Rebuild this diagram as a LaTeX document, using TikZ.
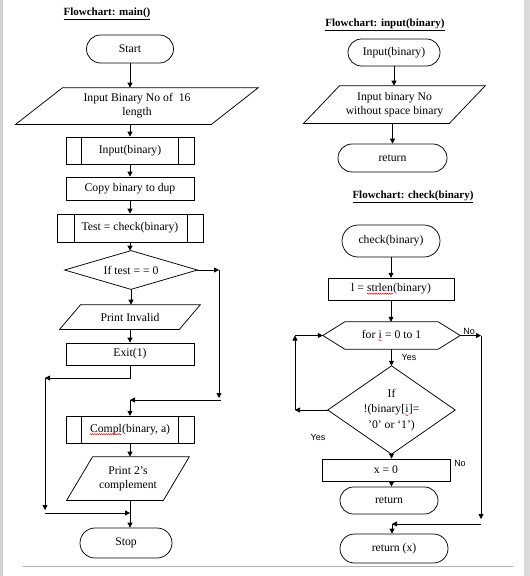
\documentclass[tikz,border=0pt]{standalone}
\usepackage{fontspec}
\setmainfont{Liberation Serif}
\newfontfamily\labfont{Liberation Sans}
\usetikzlibrary{arrows.meta,decorations.pathmorphing}
\newcommand\redwave[1]{\tikz[baseline=(wv.base),x=1pt,y=1pt]{\node[inner sep=0pt,outer sep=0pt,minimum width=0pt,minimum height=0pt,draw=none,align=left] (wv) {#1};\draw[red,line width=0.45pt,decorate,decoration={zigzag,amplitude=0.7pt,segment length=2.2pt}] ([yshift=-2.2pt]wv.base west) -- ([yshift=-2.2pt]wv.base east);}}
\tikzset{
  base/.style={inner sep=0pt, align=center, font=\fontsize{11.7}{14}\selectfont},
  term/.style={base, draw, rounded corners=#1},
  proc/.style={base, draw},
  io/.style={base},
  ttl/.style={inner sep=0pt, font=\fontsize{11}{13}\selectfont\bfseries},
  lab/.style={inner sep=0pt, font=\fontsize{9}{11}\selectfont\labfont},
  arr/.style={-{Triangle[length=5pt,width=5pt]}}
}
\begin{document}
\begin{tikzpicture}[x=1pt,y=-1pt,line width=0.75pt]
\useasboundingbox (0,0) rectangle (530,576);
\fill[gray!35] (0,0) rectangle (3,576);
\fill[gray!28] (524,0) rectangle (530,576);

% ---------------- main() ----------------
\node[ttl] (t1) at (107,14) {\underline{Flowchart: main()}};
\node[term=14pt, minimum width=87pt, minimum height=28pt] (start) at (130,49) {Start};
\node[io, minimum width=242pt, minimum height=36pt] (inp) at (137,106) {Input Binary No of\ \ 16\\length};
\draw ([xshift=47pt]inp.north west) -- (inp.north east) -- ([xshift=-47pt]inp.south east) -- (inp.south west) -- cycle;
\node[proc, minimum width=128pt, minimum height=27pt] (inb) at (130,150.5) {Input(binary)};
\draw ([xshift=16pt]inb.north west) -- ([xshift=16pt]inb.south west);
\draw ([xshift=-16pt]inb.north east) -- ([xshift=-16pt]inb.south east);
\node[proc, minimum width=128pt, minimum height=23pt] (copy) at (130,188.5) {Copy binary to dup};
\node[proc, minimum width=146pt, minimum height=28pt] (test) at (130,228) {Test = check(binary)};
\draw ([xshift=18pt]test.north west) -- ([xshift=18pt]test.south west);
\draw ([xshift=-16pt]test.north east) -- ([xshift=-16pt]test.south east);
\node[io, minimum width=132pt, minimum height=38pt] (dec) at (131,270) {If test = = 0};
\draw (dec.north) -- (dec.east) -- (dec.south) -- (dec.west) -- cycle;
\node[io, minimum width=140pt, minimum height=24pt] (pinv) at (130,317) {Print Invalid};
\draw ([xshift=21pt]pinv.north west) -- (pinv.north east) -- ([xshift=-21pt]pinv.south east) -- (pinv.south west) -- cycle;
\node[proc, minimum width=128pt, minimum height=22pt] (exit) at (130,354) {Exit(1)};
\node[proc, minimum width=128pt, minimum height=27pt] (compl) at (130,429.5) {\redwave{Compl}(binary, a)};
\draw ([xshift=16pt]compl.north west) -- ([xshift=16pt]compl.south west);
\draw ([xshift=-16pt]compl.north east) -- ([xshift=-16pt]compl.south east);
\node[io, minimum width=122pt, minimum height=43pt] (p2) at (128,478.5) {Print 2’s\\complement};
\draw ([xshift=26pt]p2.north west) -- (p2.north east) -- ([xshift=-26pt]p2.south east) -- (p2.south west) -- cycle;
\node[term=15pt, minimum width=92pt, minimum height=30pt] (stop) at (126,543) {Stop};

\coordinate (r1) at (219,270);
\coordinate (r2) at (219,398);
\coordinate (r3) at (221,400);
\coordinate (r4) at (130,400);
\coordinate (l1) at (130,378);
\coordinate (l2) at (45,378);
\coordinate (l3) at (45,510);
\coordinate (l4) at (45,513);
\coordinate (l5) at (130,513);

\draw[arr] (start.south) -- (start.south |- inp.north);
\draw[arr] (inb.north |- inp.south) -- (inb.north);
\draw[arr] (inb.south) -- (copy.north);
\draw[arr] (copy.south) -- (test.north);
\draw[arr] (test.south) -- (test.south |- dec.north);
\draw[arr] (dec.south) -- (dec.south |- pinv.north);
\draw[arr] (pinv.south) -- (exit.north);
\draw[arr] (dec.east) -- (r1);
\draw[arr] (r1) -- (r2);
\draw[arr] (r3) -- (r4);
\draw[arr] (r4) -- (compl.north);
\draw[arr] (exit.south) -- (l1) -- (l2);
\draw[arr] (l2) -- (l3);
\draw[arr] (l4) -- (l5);
\draw[arr] (compl.south) -- (compl.south |- p2.north);
\draw[arr] (l5 |- p2.south) -- (l5 |- stop.north);

% ---------------- input(binary) ----------------
\node[ttl] (t2) at (385,25) {\underline{Flowchart: input(binary)}};
\node[term=13.5pt, minimum width=92pt, minimum height=27pt] (in2) at (394,52.5) {Input(binary)};
\node[io, minimum width=181pt, minimum height=37pt] (ip2) at (394.5,104.5) {Input binary No\\without space binary};
\draw ([xshift=36pt]ip2.north west) -- (ip2.north east) -- ([xshift=-36pt]ip2.south east) -- (ip2.south west) -- cycle;
\node[term=14pt, minimum width=109pt, minimum height=28pt] (ret1) at (392.5,158) {return};
\draw[arr] (in2.south) -- (in2.south |- ip2.north);
\draw[arr] (ret1.north |- ip2.south) -- (ret1.north);

% ---------------- check(binary) ----------------
\node[ttl] (t3) at (413,197) {\underline{Flowchart: check(binary)}};
\node[term=16pt, minimum width=98pt, minimum height=32pt] (chk) at (391,241) {check(binary)};
\node[proc, minimum width=126pt, minimum height=22pt] (strl) at (391,289) {l = \redwave{strlen}(binary)};
\node[io, minimum width=137pt, minimum height=27pt] (loop) at (391.5,335.5) {for \redwave{i} = 0 to 1};
\draw (loop.west) -- ([xshift=22pt]loop.north west) -- ([xshift=-22pt]loop.north east) -- (loop.east) -- ([xshift=-22pt]loop.south east) -- ([xshift=22pt]loop.south west) -- cycle;
\node[io, minimum width=127pt, minimum height=88pt, font=\fontsize{11.7}{15.5}\selectfont] (ifb) at (391.5,410) {If\\!(binary[\redwave{i}]=\\’0’ or ‘1’)};
\draw (ifb.north) -- (ifb.east) -- (ifb.south) -- (ifb.west) -- cycle;
\node[proc, minimum width=128pt, minimum height=22pt] (x0) at (386,470) {x = 0};
\node[term=13.5pt, minimum width=98pt, minimum height=27pt] (ret2) at (389,500.5) {return};
\node[term=14.5pt, minimum width=108pt, minimum height=29pt] (retx) at (394,548.5) {return (x)};

\coordinate (q1) at (481,335.5);
\coordinate (q2) at (481,519);
\coordinate (q3) at (481,524);
\coordinate (q4) at (392,524);
\coordinate (b1) at (295,410);
\coordinate (b2) at (295,335.5);

\draw[arr] (chk.south) -- (strl.north);
\draw[arr] (strl.south) -- (strl.south |- loop.north);
\draw[arr] (loop.south) -- (ifb.north);
\draw[arr] (ifb.south) -- (ifb.south |- x0.north);
\draw[arr] (ifb.south |- x0.south) -- (ifb.south |- ret2.north);
\draw[arr] (loop.east) -- (q1);
\draw[arr] (q1) -- (q2);
\draw[arr] (q3) -- (q4);
\draw[arr] (q4) -- (q4 |- retx.north);
\draw[arr] (ifb.west) -- (b1);
\draw[arr] (b1) -- (b2);
\draw[arr] (b2) -- (loop.west);

\node[lab] (n1) at (469,331) {No};
\node[lab] (y1) at (409,357) {Yes};
\node[lab] (y2) at (318,437) {Yes};
\node[lab] (n2) at (460,463) {No};

\draw[gray!60, line width=0.6pt] (23,566) -- (513,566);
\end{tikzpicture}
\end{document}
